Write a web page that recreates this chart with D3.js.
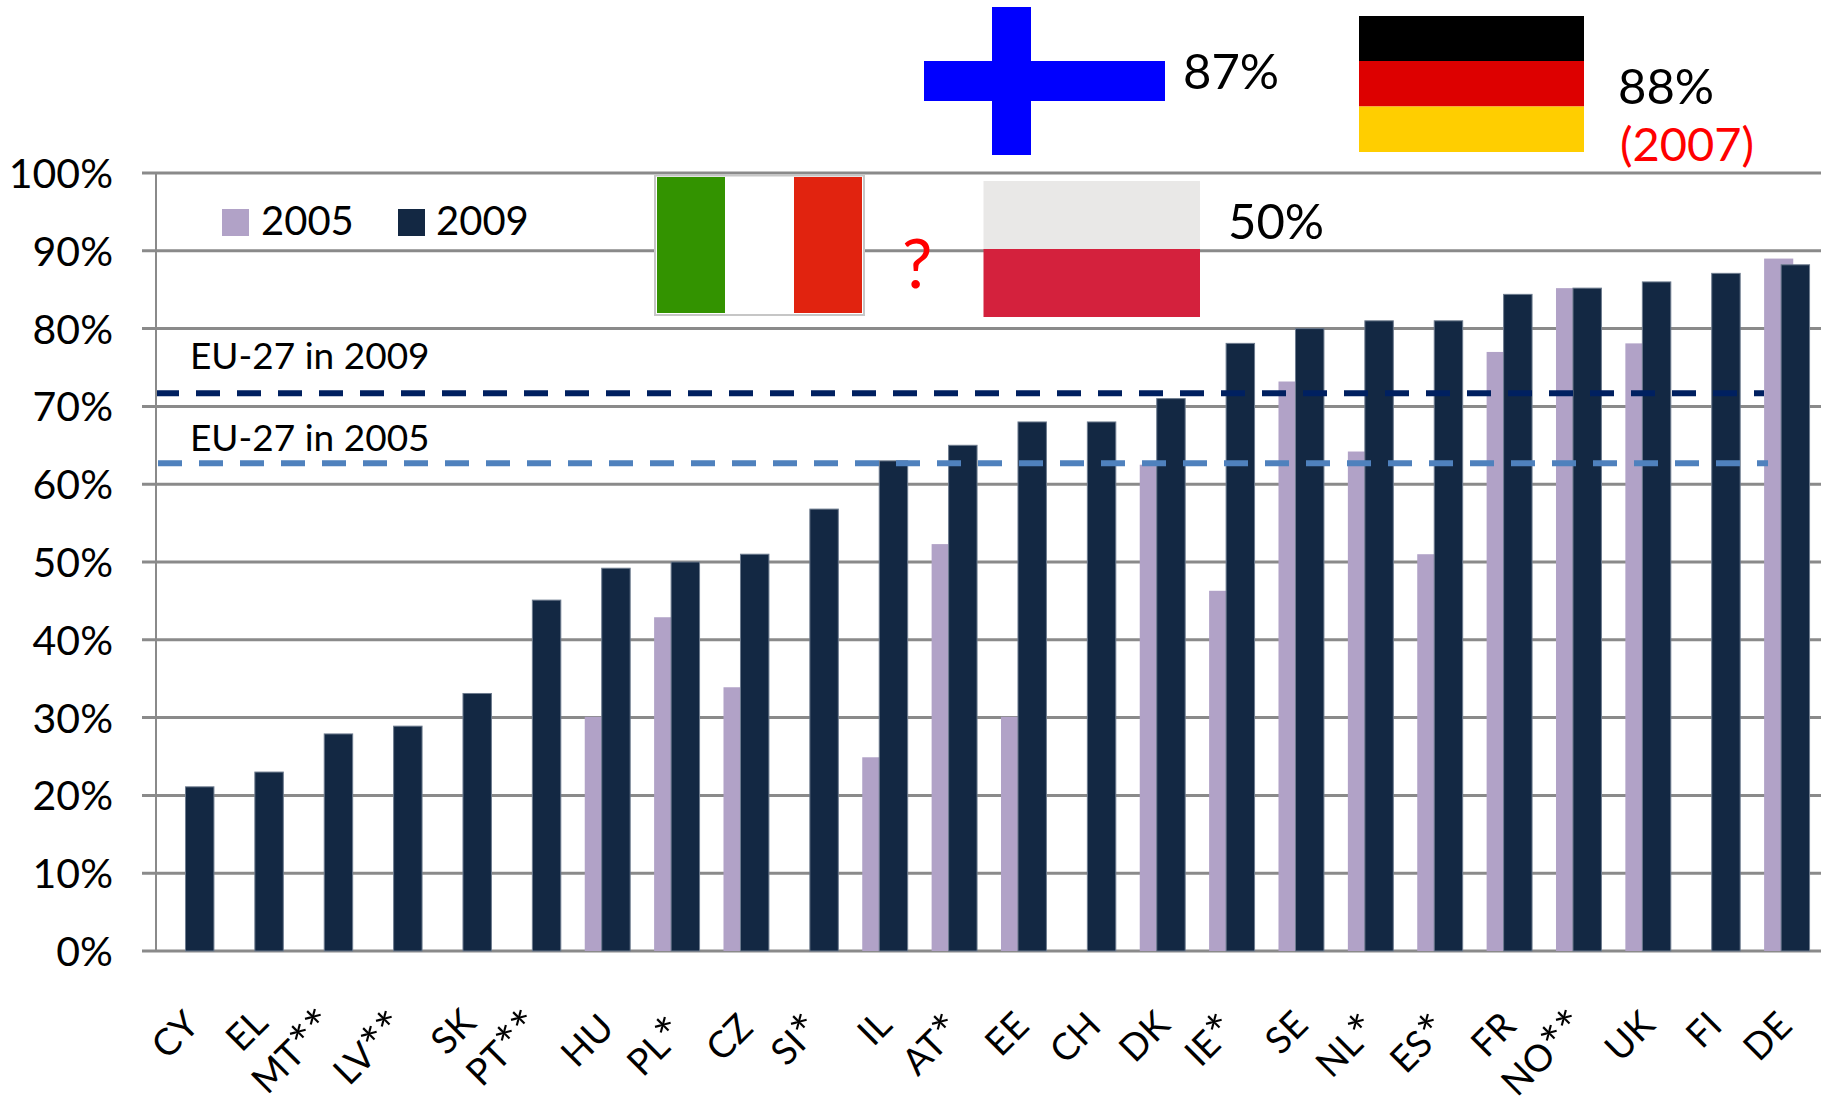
<!DOCTYPE html>
<html><head><meta charset="utf-8">
<script src="https://cdn.jsdelivr.net/npm/d3@7"></script>
<style>html,body{margin:0;padding:0;background:#fff}svg{display:block}text{font-family:Lato,"Open Sans",sans-serif;fill:#000}</style>
</head><body><svg id="c" width="1827" height="1103"></svg>
<script>
const categories=["CY","EL","MT**","LV**","SK","PT**","HU","PL*","CZ","SI*","IL","AT*","EE","CH","DK","IE*","SE","NL*","ES*","FR","NO**","UK","FI","DE"];
const values2009=[21.1,23,27.9,28.9,33.1,45.1,49.2,50,51,56.8,63,65,68,68,71,78.1,80,81,81,84.4,85.2,86,87.1,88.2];
const values2005=[null,null,null,null,null,null,30.1,42.9,33.9,null,24.9,52.3,30.1,null,62.5,46.3,73.2,64.2,51,77,85.2,78.1,null,89];
const eu27Labels=["EU-27 in 2009","EU-27 in 2005"];
const eu27Values=[71.7,62.7];
const yTicks=[0,10,20,30,40,50,60,70,80,90,100];
const legendLabels=["2005","2009"];

const W=1827,H=1103,L=156,R=1821,T=173,B=951;
const C={dark:"#132843",purple:"#b1a2c7",grid:"#8a8a8a"};
const svg=d3.select("#c");
const x=d3.scaleBand().domain(categories).range([L,R]);
const y=d3.scaleLinear().domain([0,100]).range([B,T]);

svg.append("g").selectAll("line").data(yTicks).join("line")
 .attr("x1",142).attr("x2",R).attr("y1",d=>y(d)).attr("y2",d=>y(d))
 .attr("stroke",C.grid).attr("stroke-width",3);
svg.append("line").attr("x1",L).attr("x2",L).attr("y1",T).attr("y2",B).attr("stroke",C.grid).attr("stroke-width",2);

svg.append("g").selectAll("text").data(yTicks).join("text")
 .attr("x",113).attr("y",d=>y(d)+15).attr("text-anchor","end").attr("font-size",41)
 .text(d=>d+"%");

const bw=x.bandwidth();
svg.append("g").selectAll("rect").data(categories.map((c,i)=>({c,v:values2005[i]})).filter(d=>d.v!=null)).join("rect")
 .attr("x",d=>x(d.c)+bw*0.18).attr("width",bw*0.42).attr("y",d=>y(d.v)).attr("height",d=>B-y(d.v)).attr("fill",C.purple);
svg.append("g").selectAll("rect").data(categories.map((c,i)=>({c,v:values2009[i]}))).join("rect")
 .attr("x",d=>x(d.c)+bw*0.425).attr("width",bw*0.41).attr("y",d=>y(d.v)).attr("height",d=>B-y(d.v)).attr("fill",C.dark)
 .attr("stroke","#6d7b8e").attr("stroke-width",1);

const lineColors=["#002060","#4f81bd"],lineEnd=[1764,1768],lineStart=[157,158];
eu27Values.forEach((v,i)=>{
 svg.append("line").attr("x1",lineStart[i]).attr("x2",lineEnd[i]).attr("y1",y(v)).attr("y2",y(v))
  .attr("stroke",lineColors[i]).attr("stroke-width",6).attr("stroke-dasharray","24 17").attr("stroke-dashoffset",i==0?2:0);
 svg.append("text").attr("x",190).attr("y",y(v)-(i==0?24:12)).attr("font-size",37).text(eu27Labels[i]);
});

[[222,C.purple,261],[398,C.dark,436]].forEach((d,i)=>{
 svg.append("rect").attr("x",d[0]).attr("y",209).attr("width",27).attr("height",27).attr("fill",d[1]);
 svg.append("text").attr("x",d[2]).attr("y",235).attr("font-size",40).text(legendLabels[i]);
});

const labelEndX=[201,270,337,408,478,543,616,687,755,823,894,964,1031,1103,1172,1238,1310,1380,1450,1518,1588,1657,1724,1794];
const labelEndY=[1027,1025,1026,1028,1025,1027,1030,1034,1030,1031,1027,1031,1028,1028,1027,1031,1027,1031,1031,1028,1027,1027,1028,1028];
svg.append("g").selectAll("text").data(categories).join("text")
 .attr("text-anchor","end").attr("font-size",37)
 .attr("transform",(d,i)=>`translate(${labelEndX[i]},${labelEndY[i]}) rotate(-45)`)
 .each(function(d){
   const base=d.replace(/\*/g,""),stars=d.slice(base.length),s=d3.select(this);
   s.append("tspan").text(base);
   if(stars) s.append("tspan").attr("font-size",50).attr("dy",6).text(stars);
 });

function r(a,b,c,d,f,s){const e=svg.append("rect").attr("x",a).attr("y",b).attr("width",c-a).attr("height",d-b).attr("fill",f);if(s)e.attr("stroke",s).attr("stroke-width",2);}
r(655,175.5,864,315,"#fff","#c6c6c6");
r(657,177,725,313,"#339300");
r(794,177,862,313,"#e1230f");
r(983.5,181,1200,249,"#e9e8e7");
r(983.5,249,1200,317,"#d4213d");
r(924,61,1165,101,"#0000ff");
r(992,7,1031,155,"#0000ff");
r(1359,16,1584,61,"#000");
r(1359,61,1584,106.5,"#dd0000");
r(1359,106.5,1584,152,"#ffce00");
function t(a,b,s,f,c){const e=svg.append("text").attr("x",a).attr("y",b).attr("font-size",f).text(s);if(c)e.style("fill",c);}
t(1183,89,"87%",49);
t(1618,104,"88%",49);
t(1620,161,"(2007)",47,"#f00");
t(1228,239,"50%",49);
t(902,288,"?",68,"#f00");
</script></body></html>
